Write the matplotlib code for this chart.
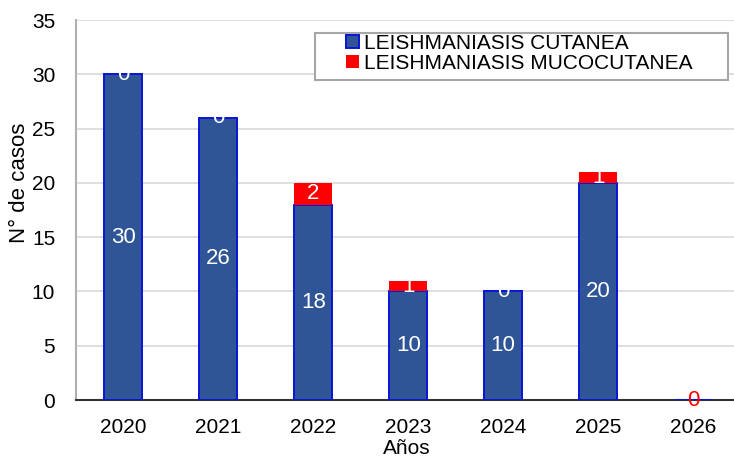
import matplotlib
matplotlib.use('Agg')
import matplotlib.pyplot as plt
from matplotlib.patches import Rectangle
import numpy as np

plt.rcParams['font.family'] = ['Liberation Sans', 'DejaVu Sans']

years = ['2020', '2021', '2022', '2023', '2024', '2025', '2026']
cutanea = [30, 26, 18, 10, 10, 20, 0]
mucocutanea = [0, 0, 2, 1, 0, 1, 0]

W, H = 734, 459
fig = plt.figure(figsize=(W/100, H/100), dpi=100)
ax = fig.add_axes([76/W, 59/H, 664.5/W, 380/H])

x = np.arange(len(years))
w = 0.4
ax.bar(x, cutanea, w, color='#2F5597', edgecolor='#0A14D8', linewidth=1.4,
       label='LEISHMANIASIS CUTANEA', zorder=3)
ax.bar(x, mucocutanea, w, bottom=cutanea, color='#FF0000', edgecolor='none',
       label='LEISHMANIASIS MUCOCUTANEA', zorder=3)

# data labels
for i in range(len(years)):
    c, m = cutanea[i], mucocutanea[i]
    if c > 0:
        ax.text(x[i], c / 2, str(c), ha='center', va='center', color='white', fontsize=16, zorder=4)
    if c > 0 or m > 0:
        ax.text(x[i], c + m / 2, str(m), ha='center', va='center', color='white', fontsize=16, zorder=4)
    else:
        ax.text(x[i], 0, str(m), ha='center', va='center', color='red', fontsize=16, zorder=4)

ax.set_ylim(0, 35)
ax.set_xlim(-0.5, 6.5)
ax.set_yticks(range(0, 36, 5))
ax.set_xticks(x)
ax.set_xticklabels(years)
ax.tick_params(axis='both', labelsize=15, length=0)
ax.tick_params(axis='x', pad=13)
ax.tick_params(axis='y', pad=15)
ax.yaxis.grid(True, color='#D9D9D9', linewidth=1.2, zorder=0)
ax.set_axisbelow(True)
for s in ['top', 'right']:
    ax.spines[s].set_visible(False)
ax.spines['left'].set_color('#B0B0B0')
ax.spines['left'].set_linewidth(1.5)
ax.spines['bottom'].set_color('#333333')
ax.spines['bottom'].set_linewidth(1.5)

ax.set_xlabel('Años', fontsize=15)
ax.xaxis.set_label_coords((407 - 76) / 664.5, -(449 - 400) / 380)
ax.xaxis.label.set_va('center')
ax.set_ylabel('N° de casos', fontsize=16)
ax.yaxis.set_label_coords(-(76 - 20) / 664.5, (400 - 183) / 380)
ax.yaxis.label.set_va('center')

# legend frame drawn separately
fig.patches.append(Rectangle((315/W, 1 - 80/H), 413/W, 47/H, transform=fig.transFigure,
                             facecolor='white', edgecolor='#A6A6A6', linewidth=1.5, zorder=5))
leg = fig.legend(loc='upper left', bbox_to_anchor=(346/W, 1 - 34/H),
                 fontsize=15, frameon=False, borderpad=0, handlelength=0.6,
                 handleheight=0.6, handletextpad=0.25, labelspacing=0.05, borderaxespad=0)
leg.set_zorder(6)

fig.savefig('out.png', dpi=100)
